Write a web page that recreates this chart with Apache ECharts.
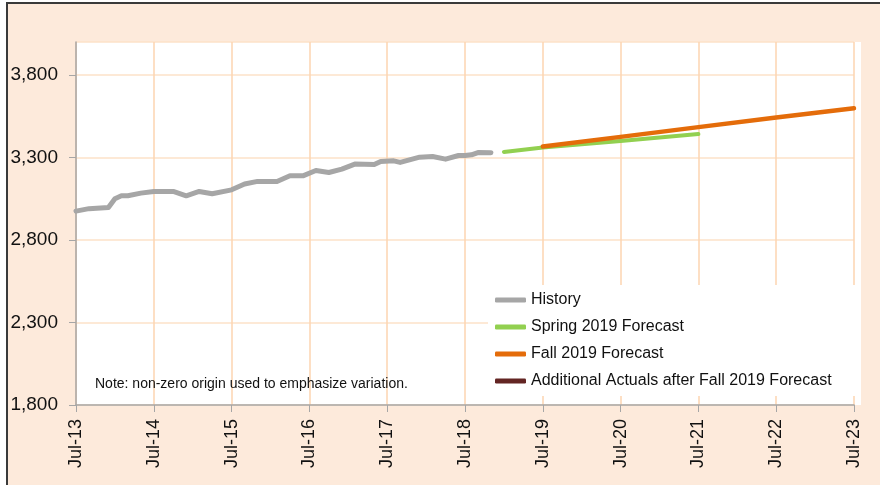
<!DOCTYPE html>
<html>
<head>
<meta charset="utf-8">
<script src="https://cdn.jsdelivr.net/npm/echarts@6/dist/echarts.min.js"></script>
<style>
  body { margin: 0; background: #fff; }
  #frame { position: absolute; left: 6px; top: 2px; width: 874px; height: 483px;
           background: #fdeadb; border-left: 2px solid #3a3a3a; border-top: 2px solid #3a3a3a; }
  #main { position: absolute; left: 0; top: 0; width: 880px; height: 485px; }
</style>
</head>
<body>
<div id="frame"></div>
<div id="main"></div>
<script>
// monthly categories Jul-13 .. Jul-23
var monthNames = ['Jan','Feb','Mar','Apr','May','Jun','Jul','Aug','Sep','Oct','Nov','Dec']
var months = []
for (var i = 0; i <= 120; i++) {
    var m = 6 + i
    months.push(monthNames[m % 12] + '-' + (13 + Math.floor(m / 12)))
}

var yTicks = [1800, 2300, 2800, 3300, 3800]

// values
var historyValues = [
    ['Jul-13', 2975], ['Sep-13', 2990], ['Dec-13', 2997], ['Jan-14', 3050], ['Feb-14', 3068],
    ['Mar-14', 3068], ['May-14', 3084], ['Jul-14', 3094], ['Oct-14', 3094], ['Dec-14', 3068],
    ['Feb-15', 3094], ['Apr-15', 3080], ['Jul-15', 3104], ['Sep-15', 3139], ['Nov-15', 3155],
    ['Feb-16', 3155], ['Apr-16', 3189], ['Jun-16', 3189], ['Aug-16', 3221], ['Oct-16', 3209],
    ['Dec-16', 3230], ['Feb-17', 3260], ['May-17', 3257], ['Jun-17', 3276], ['Aug-17', 3280],
    ['Sep-17', 3270], ['Dec-17', 3302], ['Feb-18', 3306], ['Apr-18', 3290], ['Jun-18', 3312],
    ['Jul-18', 3312], ['Aug-18', 3316], ['Sep-18', 3330], ['Nov-18', 3329]
]
var spring2019 = [
    ['Jan-19', 3334], ['Jul-19', 3360], ['Jan-20', 3380], ['Jul-20', 3400], ['Jan-21', 3421], ['Jul-21', 3442]
]
var fall2019 = [
    ['Jul-19', 3367], ['Jul-20', 3425], ['Jul-21', 3484], ['Jul-22', 3542], ['Jul-23', 3599]
]
var additionalActuals = []

var seriesNames = ['History', 'Spring 2019 Forecast', 'Fall 2019 Forecast', 'Additional Actuals after Fall 2019 Forecast']
var colors = ['#a6a6a6', '#92d050', '#e46c0a', '#632523']

function lineSeries(name, data, color, width) {
    return {
        name: name,
        type: 'line',
        data: data,
        symbol: 'none',
        color: color,
        lineStyle: { color: color, width: width, cap: 'round', join: 'round' },
        animation: false
    }
}

var myChart = echarts.init(document.getElementById('main'))
myChart.setOption({
    animation: false,
    textStyle: { fontFamily: 'Liberation Sans, Arial, sans-serif' },
    grid: { left: 76, right: 26, top: 42, bottom: 80 },
    graphic: [
        { type: 'rect', z: -10, shape: { x: 75, y: 42, width: 786, height: 363 }, style: { fill: '#ffffff' } },
        { type: 'text', z: 10, left: 95, top: 377,
          style: { text: 'Note: non-zero origin used to emphasize variation.', fontSize: 14,
                   fontFamily: 'Liberation Sans, Arial, sans-serif', fill: '#111' } }
    ],
    legend: {
        data: seriesNames,
        orient: 'vertical',
        left: 488,
        top: 285,
        padding: [6, 28, 6, 7],
        itemGap: 9,
        itemWidth: 31,
        itemHeight: 5,
        icon: 'roundRect',
        backgroundColor: '#ffffff',
        textStyle: { fontSize: 16, color: '#111', fontFamily: 'Liberation Sans, Arial, sans-serif',
                     lineHeight: 18 }
    },
    xAxis: {
        type: 'category',
        data: months,
        boundaryGap: false,
        axisLine: { lineStyle: { color: '#a6a6a6', width: 1.5 } },
        axisTick: { interval: 11, length: 7, lineStyle: { color: '#a6a6a6' } },
        axisLabel: { interval: 11, rotate: 90, fontSize: 18, color: '#111', margin: 14 },
        splitLine: { show: true, interval: 11, lineStyle: { color: '#fcd5b0', width: 1.5 } }
    },
    yAxis: {
        type: 'value',
        min: yTicks[0],
        max: 4000,
        interval: 500,
        axisLine: { show: true, lineStyle: { color: '#a6a6a6', width: 1.5 } },
        axisTick: { show: true, length: 7, lineStyle: { color: '#a6a6a6' } },
        axisLabel: {
            fontSize: 19, color: '#111', margin: 18, showMaxLabel: false,
            formatter: function (v) { return yTicks.indexOf(v) >= 0 ? v.toLocaleString('en-US') : '' }
        },
        splitLine: { lineStyle: { color: '#fde2c8', width: 1.5 } }
    },
    series: [
        lineSeries(seriesNames[0], historyValues, colors[0], 5),
        lineSeries(seriesNames[1], spring2019, colors[1], 4),
        lineSeries(seriesNames[2], fall2019, colors[2], 4.5),
        lineSeries(seriesNames[3], additionalActuals, colors[3], 4.5)
    ]
})
</script>
</body>
</html>
